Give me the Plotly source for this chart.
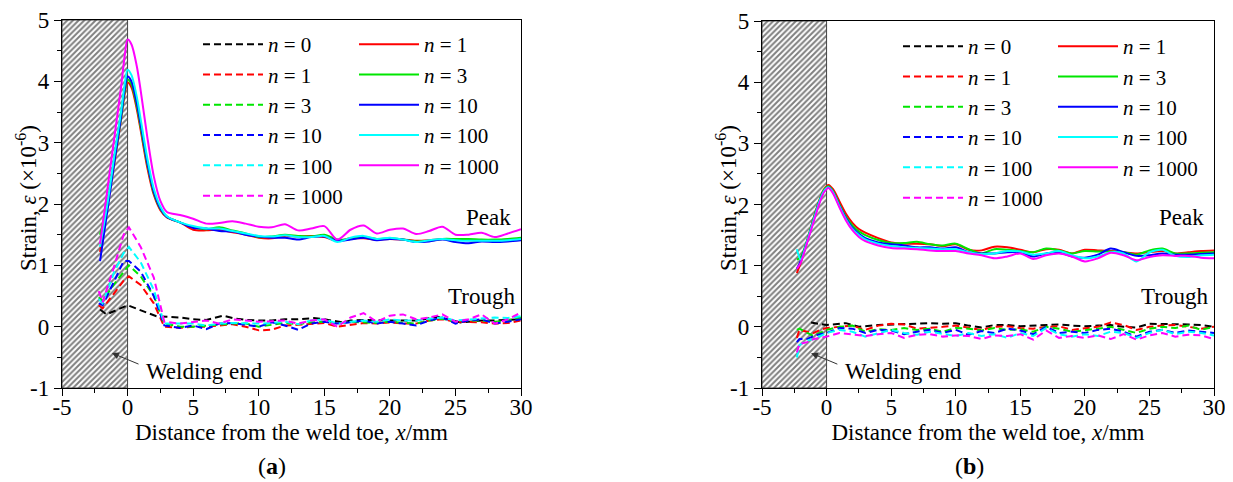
import plotly.graph_objects as go

# ---------------- data: panel (a) ----------------
xa_peak = [-2.1, -1.5, -1.0, -0.5, -0.2, 0.0, 0.3, 0.7, 1.0, 1.5, 2.0, 2.5, 3.0,
           4, 5, 6, 7, 8, 9, 10, 11, 12, 13, 14, 15, 16, 17, 18, 19, 20, 21, 22, 23,
           24, 25, 26, 27, 28, 29, 30]
a_peak_n1 = [1.22, 2.0, 2.68, 3.38, 3.82, 3.98, 3.9, 3.55, 3.2, 2.6, 2.15, 1.9, 1.78,
             1.70, 1.58, 1.57, 1.58, 1.54, 1.50, 1.45, 1.44, 1.48, 1.47, 1.48, 1.46, 1.40, 1.44,
             1.44, 1.42, 1.43, 1.42, 1.40, 1.41, 1.43, 1.42, 1.41, 1.40, 1.41, 1.42, 1.43]
a_peak_n3 = [1.50, 2.05, 2.72, 3.4, 3.86, 4.03, 3.95, 3.6, 3.25, 2.65, 2.18, 1.92, 1.79,
             1.70, 1.62, 1.59, 1.62, 1.57, 1.52, 1.46, 1.47, 1.50, 1.48, 1.47, 1.50, 1.42, 1.43,
             1.46, 1.43, 1.44, 1.42, 1.39, 1.40, 1.43, 1.43, 1.43, 1.42, 1.42, 1.43, 1.45]
a_peak_n10 = [1.07, 1.95, 2.7, 3.42, 3.9, 4.08, 4.0, 3.65, 3.3, 2.68, 2.2, 1.93, 1.79,
              1.70, 1.61, 1.60, 1.56, 1.55, 1.50, 1.47, 1.45, 1.45, 1.42, 1.46, 1.47, 1.40, 1.42,
              1.45, 1.41, 1.43, 1.42, 1.38, 1.39, 1.42, 1.38, 1.36, 1.39, 1.38, 1.39, 1.41]
a_peak_n100 = [1.3, 2.05, 2.8, 3.5, 3.98, 4.19, 4.1, 3.75, 3.38, 2.75, 2.25, 1.96, 1.80,
               1.70, 1.64, 1.60, 1.60, 1.56, 1.52, 1.48, 1.47, 1.49, 1.46, 1.46, 1.48, 1.38, 1.45,
               1.48, 1.43, 1.45, 1.42, 1.38, 1.41, 1.43, 1.41, 1.40, 1.40, 1.40, 1.41, 1.43]
a_peak_n1000 = [1.35, 2.3, 3.1, 3.9, 4.45, 4.68, 4.6, 4.25, 3.85, 3.1, 2.45, 2.05, 1.87,
                1.82, 1.76, 1.68, 1.69, 1.72, 1.68, 1.63, 1.62, 1.67, 1.57, 1.60, 1.64, 1.42, 1.58,
                1.65, 1.52, 1.58, 1.60, 1.51, 1.56, 1.63, 1.50, 1.50, 1.53, 1.46, 1.52, 1.59]

xa_tr0 = [-2.1, -1.6, 0.0, 1.0, 2.2, 4, 5, 6, 7.3, 8, 9, 10, 11, 12, 13, 14.2, 15, 16.4,
          17, 18, 19, 20, 21, 22, 23.6, 25.4, 26, 27, 28, 29.4, 30]
a_tr_n0 = [0.28, 0.2, 0.35, 0.27, 0.17, 0.15, 0.12, 0.11, 0.18, 0.14, 0.11, 0.1, 0.1, 0.12,
           0.12, 0.14, 0.12, 0.07, 0.1, 0.11, 0.1, 0.1, 0.1, 0.1, 0.16, 0.07, 0.08, 0.1, 0.1,
           0.11, 0.12]
xa_tr = [-2.2, -1.9, -1.0, -0.3, 0.1, 1.0, 2.0, 2.8,
         4, 5, 6, 7, 8, 9, 10, 11, 12, 13, 14, 15, 16, 17, 18, 19, 20, 21, 22, 23, 24, 25,
         26, 27, 28, 29, 30]
a_tr_n1 = [0.35, 0.3, 0.55, 0.75, 0.82, 0.68, 0.38, 0.0,
           -0.02, 0.0, 0.0, 0.02, 0.04, 0.0, -0.06, -0.05, 0.02, 0.03, 0.05, 0.06, 0.0, 0.03,
           0.06, 0.05, 0.07, 0.05, 0.05, 0.1, 0.12, 0.08, 0.08, 0.07, 0.05, 0.06, 0.1]
a_tr_n3 = [0.48, 0.42, 0.7, 0.9, 1.0, 0.82, 0.5, 0.05,
           0.0, 0.0, 0.02, 0.04, 0.05, 0.05, 0.0, 0.03, 0.06, 0.04, 0.07, 0.08, 0.05, 0.08,
           0.07, 0.06, 0.08, 0.07, 0.05, 0.1, 0.13, 0.08, 0.1, 0.1, 0.08, 0.1, 0.15]
a_tr_n10 = [0.38, 0.35, 0.75, 1.07, 1.07, 0.9, 0.5, 0.02,
            -0.02, 0.02, -0.04, 0.05, 0.06, 0.03, 0.0, 0.07, 0.02, -0.05, 0.05, 0.08, 0.05,
            0.07, 0.1, 0.05, 0.08, 0.05, 0.02, 0.1, 0.15, 0.05, 0.1, 0.12, 0.05, 0.08, 0.12]
a_tr_n100 = [0.45, 0.38, 0.9, 1.2, 1.3, 1.05, 0.6, 0.05,
             0.05, 0.05, 0.02, 0.05, 0.06, 0.05, 0.05, 0.06, 0.08, 0.04, 0.1, 0.12, 0.05,
             0.08, 0.1, 0.08, 0.12, 0.1, 0.1, 0.13, 0.15, 0.1, 0.12, 0.13, 0.15, 0.14, 0.17]
a_tr_n1000 = [0.58, 0.4, 1.0, 1.5, 1.62, 1.3, 0.8, 0.08,
              0.05, 0.08, 0.1, 0.05, 0.12, 0.1, 0.08, 0.09, 0.1, 0.05, 0.1, 0.12, 0.0, 0.15,
              0.22, 0.08, 0.18, 0.2, 0.12, 0.15, 0.2, 0.08, 0.12, 0.2, 0.05, 0.12, 0.23]

# ---------------- data: panel (b) ----------------
xb_peak = [-2.3, -2.0, -1.5, -1.0, -0.5, -0.2, 0.15, 0.5, 1.0, 1.5, 2.0, 2.5, 3.0,
           4, 5, 6, 7, 8, 9, 10, 11, 12, 13, 14, 15, 16, 17, 18, 19, 20, 21, 22, 23,
           24, 25, 26, 27, 28, 29, 30]
b_peak_n1 = [0.88, 1.05, 1.4, 1.78, 2.1, 2.25, 2.32, 2.25, 2.05, 1.85, 1.7, 1.6, 1.54,
             1.45, 1.38, 1.36, 1.36, 1.35, 1.32, 1.35, 1.26, 1.25, 1.31, 1.3, 1.26, 1.22, 1.27,
             1.26, 1.2, 1.26, 1.25, 1.24, 1.22, 1.2, 1.22, 1.24, 1.2, 1.22, 1.24, 1.25]
b_peak_n3 = [1.1, 1.14, 1.42, 1.78, 2.1, 2.24, 2.3, 2.22, 2.0, 1.8, 1.66, 1.56, 1.5,
             1.42, 1.37, 1.37, 1.39, 1.35, 1.33, 1.36, 1.27, 1.2, 1.27, 1.26, 1.24, 1.22, 1.28,
             1.25, 1.2, 1.24, 1.23, 1.23, 1.22, 1.18, 1.25, 1.28, 1.2, 1.2, 1.21, 1.22]
b_peak_n10 = [0.95, 1.08, 1.4, 1.75, 2.08, 2.22, 2.28, 2.2, 1.98, 1.78, 1.62, 1.52, 1.45,
              1.38, 1.35, 1.33, 1.3, 1.3, 1.28, 1.3, 1.22, 1.2, 1.2, 1.22, 1.22, 1.15, 1.2,
              1.22, 1.15, 1.13, 1.18, 1.28, 1.22, 1.16, 1.17, 1.2, 1.18, 1.18, 1.19, 1.2]
b_peak_n100 = [1.27, 1.1, 1.4, 1.75, 2.08, 2.22, 2.28, 2.2, 1.97, 1.76, 1.6, 1.5, 1.43,
               1.36, 1.32, 1.3, 1.29, 1.28, 1.27, 1.27, 1.22, 1.19, 1.2, 1.24, 1.23, 1.18, 1.2,
               1.24, 1.17, 1.12, 1.15, 1.22, 1.2, 1.07, 1.22, 1.26, 1.16, 1.14, 1.17, 1.18]
b_peak_n1000 = [0.95, 1.05, 1.38, 1.72, 2.05, 2.2, 2.27, 2.18, 1.95, 1.74, 1.58, 1.47, 1.4,
                1.33, 1.29, 1.28, 1.27, 1.25, 1.24, 1.24, 1.2, 1.17, 1.12, 1.15, 1.2, 1.11, 1.17,
                1.2, 1.15, 1.07, 1.12, 1.21, 1.17, 1.09, 1.14, 1.17, 1.16, 1.16, 1.13, 1.12]

xb_tr0 = [-1.2, 0.0, 1.5, 2.5, 4, 5, 6, 7, 8, 9, 10, 11, 12, 13, 14, 15, 16, 17, 18, 19,
          20, 21, 22, 23, 24, 25, 26, 27, 28, 29, 30]
b_tr_n0 = [0.07, 0.03, 0.06, 0.0, 0.03, 0.04, 0.04, 0.05, 0.06, 0.05, 0.06, 0.02, -0.01,
           0.03, 0.03, 0.01, 0.02, 0.03, 0.04, 0.02, 0.01, 0.02, 0.03, 0.0, -0.01, 0.05, 0.05,
           0.04, 0.04, 0.03, 0.0]
xb_tr = [-2.3, -2.1, -1.5, -1.0, -0.5, 0.0,
         1, 2, 3, 4, 5, 6, 7, 8, 9, 10, 11, 12, 13, 14, 15, 16, 17, 18, 19, 20,
         21, 22, 23, 24, 25, 26, 27, 28, 29, 30]
b_tr_n1 = [-0.18, -0.05, -0.08, -0.1, -0.05, -0.02,
           0.0, 0.02, -0.05, 0.02, 0.05, 0.04, -0.03, -0.02, 0.0, 0.02,
           -0.02, -0.05, 0.0, 0.01, -0.02, -0.03, 0.0, 0.01, -0.05, -0.02,
           0.0, 0.07, 0.03, -0.05, 0.0, 0.02, 0.03, 0.0, -0.03, 0.0]
b_tr_n3 = [-0.05, -0.03, -0.1, -0.15, -0.1, -0.05,
           0.0, 0.02, -0.08, -0.04, -0.05, -0.02, -0.05, -0.03, -0.08, -0.02,
           -0.03, -0.06, -0.02, -0.05, -0.04, -0.08, 0.0, -0.03, -0.08, -0.06,
           -0.03, 0.0, -0.05, -0.1, -0.03, 0.0, -0.02, 0.02, -0.05, 0.0]
b_tr_n10 = [-0.25, -0.2, -0.2, -0.15, -0.12, -0.1,
            -0.02, -0.03, -0.1, -0.05, -0.06, -0.12, -0.08, -0.05, -0.1, -0.05,
            -0.13, -0.07, -0.1, -0.03, -0.06, -0.12, 0.0, -0.1, -0.08, -0.1,
            -0.05, -0.03, -0.08, -0.16, -0.08, -0.05, -0.1, -0.06, -0.08, -0.1]
b_tr_n100 = [-0.5, -0.3, -0.22, -0.2, -0.15, -0.1,
             -0.05, -0.08, -0.16, -0.1, -0.05, -0.1, -0.13, -0.08, -0.12, -0.15,
             -0.1, -0.15, -0.12, -0.18, -0.1, -0.15, -0.02, -0.12, -0.16, -0.12,
             -0.15, -0.08, -0.1, -0.18, -0.1, -0.05, -0.12, -0.08, -0.1, -0.14]
b_tr_n1000 = [-0.42, -0.28, -0.25, -0.2, -0.18, -0.16,
              -0.1, -0.12, -0.15, -0.12, -0.1, -0.18, -0.13, -0.12, -0.16, -0.14,
              -0.15, -0.2, -0.14, -0.15, -0.12, -0.21, -0.06, -0.18, -0.15, -0.18,
              -0.14, -0.2, -0.12, -0.21, -0.14, -0.1, -0.16, -0.13, -0.14, -0.2]

colors = {"0": "#000000", "1": "#FF0000", "3": "#00E600", "10": "#0000FF",
          "100": "#00FFFF", "1000": "#FF00FF"}

x_ticks = [-5, 0, 5, 10, 15, 20, 25, 30]
x_tick_labels = ["-5", "0", "5", "10", "15", "20", "25", "30"]
y_ticks = [-1, 0, 1, 2, 3, 4, 5]
y_tick_labels = ["-1", "0", "1", "2", "3", "4", "5"]
weld_zone = [-5, 0]

FONT = "Liberation Serif"
DASH = "7px,4px"

# The page puts the figure 8 px in from the top-left corner of the window
W, H = 1225, 474


def px(xp):
    return (xp - 8) / W


def py(yp):
    return 1 - (yp - 8) / H


fig = go.Figure()

panels = [
    dict(xax="x", yax="y", leg_d="legend", leg_s="legend2",
         troughs=[(xa_tr0, a_tr_n0, "0"), (xa_tr, a_tr_n1, "1"), (xa_tr, a_tr_n3, "3"),
                  (xa_tr, a_tr_n10, "10"), (xa_tr, a_tr_n100, "100"), (xa_tr, a_tr_n1000, "1000")],
         peaks=[(xa_peak, a_peak_n1, "1"), (xa_peak, a_peak_n3, "3"), (xa_peak, a_peak_n10, "10"),
                (xa_peak, a_peak_n100, "100"), (xa_peak, a_peak_n1000, "1000")]),
    dict(xax="x2", yax="y2", leg_d="legend3", leg_s="legend4",
         troughs=[(xb_tr0, b_tr_n0, "0"), (xb_tr, b_tr_n1, "1"), (xb_tr, b_tr_n3, "3"),
                  (xb_tr, b_tr_n10, "10"), (xb_tr, b_tr_n100, "100"), (xb_tr, b_tr_n1000, "1000")],
         peaks=[(xb_peak, b_peak_n1, "1"), (xb_peak, b_peak_n3, "3"), (xb_peak, b_peak_n10, "10"),
                (xb_peak, b_peak_n100, "100"), (xb_peak, b_peak_n1000, "1000")]),
]

for p in panels:
    # hatched weld zone
    fig.add_trace(go.Bar(
        x=[(weld_zone[0] + weld_zone[1]) / 2], y=[y_ticks[-1] - y_ticks[0]], base=[y_ticks[0]],
        width=[weld_zone[1] - weld_zone[0]],
        marker=dict(color="white", line=dict(color="#444", width=1),
                    pattern=dict(shape="/", fgcolor="#000", bgcolor="white", size=4, solidity=0.5)),
        xaxis=p["xax"], yaxis=p["yax"], showlegend=False, hoverinfo="skip"))
    for xs, ys, lab in p["troughs"]:
        fig.add_trace(go.Scatter(
            x=xs, y=ys, mode="lines", name=f"<i>n</i> = {lab}",
            line=dict(color=colors[lab], width=2, dash=DASH),
            xaxis=p["xax"], yaxis=p["yax"], legend=p["leg_d"]))
    for xs, ys, lab in p["peaks"]:
        fig.add_trace(go.Scatter(
            x=xs, y=ys, mode="lines", name=f"<i>n</i> = {lab}",
            line=dict(color=colors[lab], width=2, shape="spline", smoothing=0.8),
            xaxis=p["xax"], yaxis=p["yax"], legend=p["leg_s"]))

axis_common = dict(showline=True, linecolor="black", linewidth=1.3, mirror=True,
                   ticks="outside", ticklen=7, tickwidth=1.2, tickcolor="black",
                   showgrid=False, zeroline=False, automargin=False,
                   tickfont=dict(family=FONT, size=23, color="black"))
xcommon = dict(axis_common, range=[x_ticks[0], x_ticks[-1]], tickvals=x_ticks,
               ticktext=x_tick_labels, ticklabelstandoff=-9,
               minor=dict(ticks="outside", ticklen=4, dtick=2.5, tickcolor="black", tickwidth=1),
               title=dict(text="Distance from the weld toe, <i>x</i>/mm",
                          font=dict(family=FONT, size=23, color="black"), standoff=3))
ycommon = dict(axis_common, range=[y_ticks[0], y_ticks[-1]], tickvals=y_ticks,
               ticktext=y_tick_labels,
               minor=dict(ticks="outside", ticklen=4, dtick=0.5, tickcolor="black", tickwidth=1))

leg_common = dict(bgcolor="rgba(0,0,0,0)", borderwidth=0, itemwidth=60,
                  font=dict(family=FONT, size=21, color="black"),
                  xanchor="left", yanchor="top", tracegroupgap=0, itemclick=False)

fig.update_layout(
    width=W, height=H, margin=dict(l=0, r=0, t=0, b=0, autoexpand=False),
    paper_bgcolor="white", plot_bgcolor="white", showlegend=True, barmode="overlay",
    font=dict(family=FONT, color="black"),
    xaxis=dict(xcommon, domain=[px(62), px(521)], anchor="y"),
    yaxis=dict(ycommon, domain=[py(388), py(20)], anchor="x"),
    xaxis2=dict(xcommon, domain=[px(762), px(1214)], anchor="y2"),
    yaxis2=dict(ycommon, domain=[py(388), py(21)], anchor="x2"),
    legend=dict(leg_common, x=px(198), y=py(24)),
    legend2=dict(leg_common, x=px(354), y=py(24)),
    legend3=dict(leg_common, x=px(898), y=py(26)),
    legend4=dict(leg_common, x=px(1053), y=py(26)),
)

ann = []
for xr, yr, yx in [("x", "y", 26), ("x2", "y2", 726)]:
    ann.append(dict(text="Strain, <i>ε</i> (×10<sup>-6</sup>)", xref="paper", yref="paper",
                    x=px(yx), y=py(198), xanchor="center", yanchor="middle", textangle=-90,
                    showarrow=False, font=dict(family=FONT, size=23, color="black")))
    ann.append(dict(text="Peak", xref=xr, yref=yr, x=29.4, y=1.78, xanchor="right",
                    yanchor="middle", showarrow=False,
                    font=dict(family=FONT, size=23, color="black")))
    ann.append(dict(text="Trough", xref=xr, yref=yr, x=29.7, y=0.5, xanchor="right",
                    yanchor="middle", showarrow=False,
                    font=dict(family=FONT, size=23, color="black")))
    ann.append(dict(text="Welding end", xref=xr, yref=yr, x=1.25, y=-0.73, xanchor="left",
                    yanchor="middle", showarrow=False,
                    font=dict(family=FONT, size=23, color="black")))
    ann.append(dict(text="", xref=xr, yref=yr, x=-1.2, y=-0.43, axref=xr, ayref=yr,
                    ax=0.95, ay=-0.62, showarrow=True, arrowhead=2, arrowsize=1.4,
                    arrowwidth=1, arrowcolor="#333"))
ann.append(dict(text="(<b>a</b>)", xref="paper", yref="paper", x=px(272), y=py(466),
                xanchor="center", yanchor="middle", showarrow=False,
                font=dict(family=FONT, size=24, color="black")))
ann.append(dict(text="(<b>b</b>)", xref="paper", yref="paper", x=px(969), y=py(466),
                xanchor="center", yanchor="middle", showarrow=False,
                font=dict(family=FONT, size=24, color="black")))
fig.update_layout(annotations=ann)

fig.write_html("out.html")
